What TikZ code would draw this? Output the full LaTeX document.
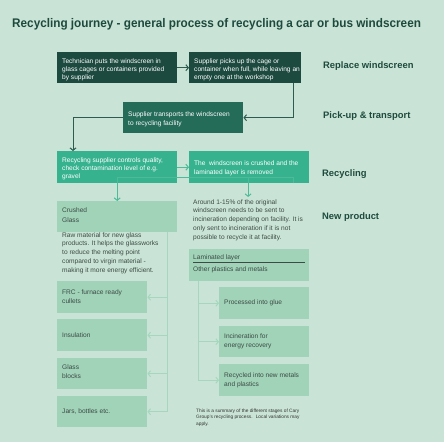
\documentclass[tikz,border=0pt]{standalone}
\usepackage{fontspec}
\setmainfont{Liberation Sans}
\newfontfamily\titlefont{Liberation Sans}[FakeStretch=0.94]
\usetikzlibrary{arrows.meta}
\definecolor{cbg}{HTML}{C9E4D6}
\definecolor{cdark}{HTML}{1D4A3F}
\definecolor{cmid}{HTML}{246B58}
\definecolor{cteal}{HTML}{36B28F}
\definecolor{clight}{HTML}{A0D3B8}
\definecolor{cdline}{HTML}{2F5A4E}
\definecolor{ctline}{HTML}{4DBA98}
\definecolor{cpline}{HTML}{A6D7BE}
\definecolor{ctext}{HTML}{3D4A45}
\definecolor{clabel}{HTML}{1E4A3D}
\begin{document}
\begin{tikzpicture}[x=1pt,y=-1pt,
  gbox/.style 2 args={anchor=north west,inner sep=0pt,minimum width=#1pt,minimum height=#2pt},
  txt/.style={anchor=west,align=left,inner sep=0pt,font=\fontsize{6.6}{8.4}\selectfont},
  lbl/.style={anchor=base west,inner sep=0pt,text=clabel,font=\fontsize{9.4}{11}\selectfont\bfseries},
  arr/.style={-{Straight Barb[length=2.5pt,width=6pt]},line width=1pt}
]
\fill[cbg] (0,0) rectangle (444,442);
\useasboundingbox (0,0) rectangle (444,442);

% title
\node[anchor=base west,inner sep=0pt,text=clabel,font=\titlefont\fontsize{12.5}{14}\selectfont\bfseries] (title) at (12,27.5)
  {Recycling journey - general process of recycling a car or bus windscreen};

% stage labels
\node[lbl] (l1) at (323,68) {Replace windscreen};
\node[lbl] (l2) at (323,118) {Pick-up \& transport};
\node[lbl] (l3) at (322,176) {Recycling};
\node[lbl] (l4) at (322,219) {New product};

% top boxes
\node[gbox={120}{31},fill=cdark] (b1) at (57,52) {};
\node[txt,text=white] (t1) at ([xshift=5pt,yshift=-2pt]b1.west)
  {Technician puts the windscreen in\\glass cages or containers provided\\by supplier};
\node[gbox={112}{31},fill=cdark] (b2) at (189,52) {};
\node[txt,text=white] (t2) at ([xshift=5pt,yshift=-2pt]b2.west)
  {Supplier picks up the cage or\\container when full, while leaving an\\empty one at the workshop};
\node[gbox={120}{31},fill=cmid] (b3) at (123,102) {};
\node[txt,text=white] (t3) at ([xshift=5pt,yshift=-1.5pt]b3.west)
  {Supplier transports the windscreen\\to recycling facility};
\node[gbox={120}{32},fill=cteal] (b4) at (57,151) {};
\node[txt,text=white] (t4) at ([xshift=5pt,yshift=-1.5pt]b4.west)
  {Recycling supplier controls quality,\\check contamination level of e.g.\\gravel};
\node[gbox={120}{32},fill=cteal] (b5) at (189,151) {};
\node[txt,text=white] (t5) at ([xshift=5pt,yshift=-1pt]b5.west)
  {The \ windscreen is crushed and the\\laminated layer is removed};

% crushed glass column
\node[gbox={120}{31},fill=clight] (cg) at (57,201) {};
\node[txt,text=ctext,font=\fontsize{6.6}{10}\selectfont] (tcg) at ([xshift=5pt,yshift=2pt]cg.west)
  {Crushed\\Glass};
\node[txt,anchor=north west,text=ctext,font=\fontsize{6.6}{8.7}\selectfont] (raw) at (62,232.3)
  {Raw material for new glass\\products. It helps the glassworks\\to reduce the melting point\\compared to virgin material -\\making it more energy efficient.};
\node[gbox={90}{32},fill=clight] (frc) at (57,281) {};
\node[txt,text=ctext] (tfrc) at ([xshift=5pt,yshift=0.5pt]frc.west) {FRC - furnace ready\\cullets};
\node[gbox={90}{32},fill=clight] (ins) at (57,319) {};
\node[txt,text=ctext] (tins) at ([xshift=5pt]ins.west) {Insulation};
\node[gbox={90}{31},fill=clight] (gb) at (57,358) {};
\node[txt,text=ctext] (tgb) at ([xshift=5pt,yshift=2pt]gb.west) {Glass\\blocks};
\node[gbox={90}{31},fill=clight] (jar) at (57,396) {};
\node[txt,text=ctext] (tjar) at ([xshift=5pt]jar.west) {Jars, bottles etc.};

% laminated column
\node[txt,anchor=north west,text=ctext,font=\fontsize{6.6}{8.75}\selectfont,inner ysep=2.2pt] (ar) at (193,197)
  {Around 1-15\% of the original\\windscreen needs to be sent to\\incineration depending on facility. It is\\only sent to incineration if it is not\\possible to recycle it at facility.};
\node[gbox={120}{32},fill=clight] (lam) at (189,249) {};
\node[txt,text=ctext,font=\fontsize{6.6}{11.5}\selectfont] (tlam) at ([xshift=4pt,yshift=1.5pt]lam.west)
  {\underline{\makebox[112pt][l]{Laminated layer}}\\Other plastics and metals};
\node[gbox={90}{32},fill=clight] (glue) at (219,287) {};
\node[txt,text=ctext] (tglue) at ([xshift=5pt]glue.west) {Processed into glue};
\node[gbox={90}{31},fill=clight] (inc) at (219,326) {};
\node[txt,text=ctext] (tinc) at ([xshift=5pt,yshift=0.5pt]inc.west) {Incineration for\\energy recovery};
\node[gbox={90}{32},fill=clight] (rec) at (219,364) {};
\node[txt,text=ctext] (trec) at ([xshift=5pt,yshift=0pt]rec.west) {Recycled into new metals\\and plastics};

% footnote
\node[anchor=north west,align=left,inner sep=0pt,text=black!80,font=\fontsize{4.8}{6.7}\selectfont] (fn) at (196,408.6)
  {This is a summary of the different stages of Cary\\Group's recycling process. \ Local variations may\\apply.};

% connectors
\draw[arr,cdline] (b1.east) -- (b2.west);
\draw[arr,cdline] ([xshift=-8pt]b2.south east) |- (b3.east);
\draw[arr,cdline] (b3.west) -| ([xshift=16pt]b4.north west);
\draw[arr,ctline] (b4.east) -- (b5.west);
\coordinate (s5) at ([xshift=-16pt]b5.south east);
\coordinate (j5) at ([yshift=5.5pt]s5);
\draw[arr,ctline] (s5) -- (j5) -| (cg.north);
\draw[arr,ctline] (j5) -| (ar.north);

\coordinate (cgs) at ([xshift=-10pt]cg.south east);
\draw[arr,cpline] (cgs) |- (frc.east);
\draw[arr,cpline] (cgs) |- (ins.east);
\draw[arr,cpline] (cgs) |- (gb.east);
\draw[arr,cpline] (cgs) |- (jar.east);

\coordinate (lms) at ([xshift=9pt]lam.south west);
\draw[arr,cpline] (lms) |- (glue.west);
\draw[arr,cpline] (lms) |- (inc.west);
\draw[arr,cpline] (lms) |- (rec.west);
\end{tikzpicture}
\end{document}
